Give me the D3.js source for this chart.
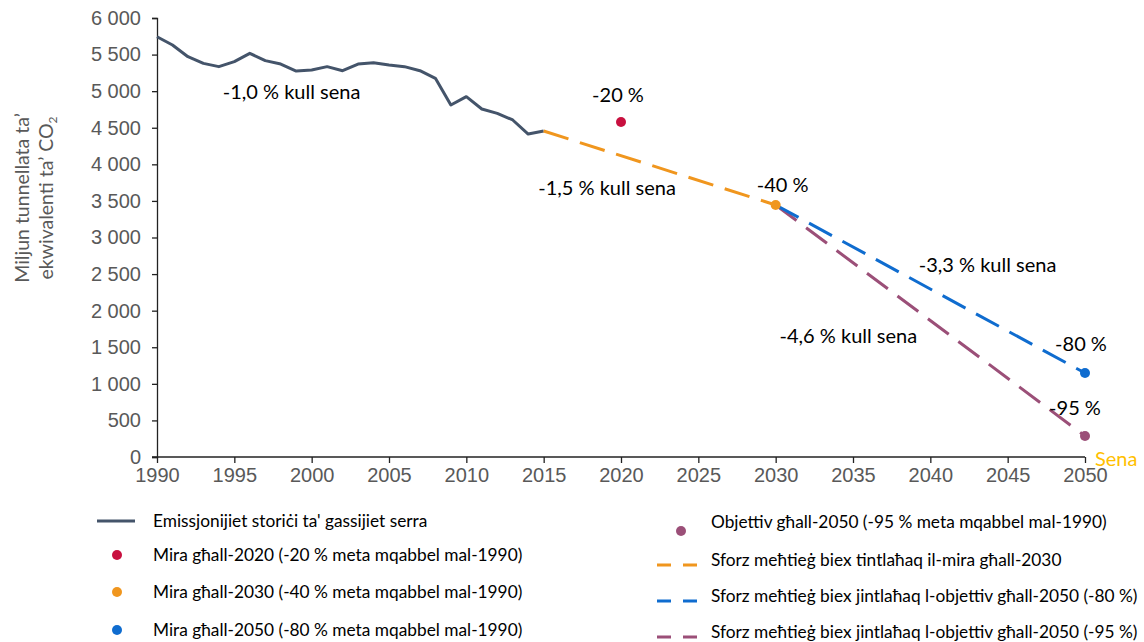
<!DOCTYPE html>
<html>
<head>
<meta charset="utf-8">
<script src="https://cdn.jsdelivr.net/npm/d3@7"></script>
<style>
  body { margin: 0; background: #fff; }
  svg text { font-family: Lato, "Open Sans", sans-serif; }
  .tick text { font-family: "Liberation Sans", Arial, sans-serif; }
</style>
</head>
<body>
<svg id="chart" width="1144" height="642"></svg>
<script>
// ---- data ----
var histYears = [1990, 1991, 1992, 1993, 1994, 1995, 1996, 1997, 1998, 1999,
                 2000, 2001, 2002, 2003, 2004, 2005, 2006, 2007, 2008, 2009,
                 2010, 2011, 2012, 2013, 2014, 2015];
var histValues = [5744, 5631, 5471, 5380, 5335, 5403, 5517, 5417, 5371, 5275,
                  5289, 5335, 5280, 5371, 5389, 5357, 5335, 5280, 5175, 4811,
                  4925, 4756, 4697, 4606, 4414, 4455];

var path2030 = [[2015, 4455], [2030, 3444]];
var path2050a = [[2030, 3444], [2050, 1148]];
var path2050b = [[2030, 3444], [2050, 287]];

var targets = [
  { year: 2020, value: 4578, label: "-20 %", color: "#c8103f", dx: -3, dy: -20 },
  { year: 2030, value: 3444, label: "-40 %", color: "#f0961e", dx: 7, dy: -13 },
  { year: 2050, value: 1148, label: "-80 %", color: "#0f6ccf", dx: -4, dy: -22 },
  { year: 2050, value: 287, label: "-95 %", color: "#9b4f78", dx: -10, dy: -21 }
];

// rate labels anchored in data space (text centre, baseline)
var rateLabels = [
  { year: 1998.7, value: 4893, text: "-1,0 % kull sena" },
  { year: 2019.1, value: 3581, text: "-1,5 % kull sena" },
  { year: 2043.7, value: 2528, text: "-3,3 % kull sena" },
  { year: 2034.7, value: 1558, text: "-4,6 % kull sena" }
];

var yTicks = [0, 500, 1000, 1500, 2000, 2500, 3000, 3500, 4000, 4500, 5000, 5500, 6000];
var xTicks = [1990, 1995, 2000, 2005, 2010, 2015, 2020, 2025, 2030, 2035, 2040, 2045, 2050];

var legendLeft = [
  { type: "line", color: "#44546a", text: "Emissjonijiet storiċi ta' gassijiet serra" },
  { type: "dot", color: "#c8103f", text: "Mira għall-2020 (-20 % meta mqabbel mal-1990)" },
  { type: "dot", color: "#f0961e", text: "Mira għall-2030 (-40 % meta mqabbel mal-1990)" },
  { type: "dot", color: "#0f6ccf", text: "Mira għall-2050 (-80 % meta mqabbel mal-1990)" }
];
var legendRight = [
  { type: "dot", color: "#9b4f78", text: "Objettiv għall-2050 (-95 % meta mqabbel mal-1990)" },
  { type: "dash", color: "#f0961e", text: "Sforz meħtieġ biex tintlaħaq il-mira għall-2030" },
  { type: "dash", color: "#0f6ccf", text: "Sforz meħtieġ biex jintlaħaq l-objettiv għall-2050 (-80 %)" },
  { type: "dash", color: "#9b4f78", text: "Sforz meħtieġ biex jintlaħaq l-objettiv għall-2050 (-95 %)" }
];

// ---- layout ----
var svg = d3.select("#chart");
var mLeft = 157, mRight = 1085, mTop = 18, mBottom = 457;

var x = d3.scaleLinear().domain([1990, 2050]).range([mLeft, mRight]);
var y = d3.scaleLinear().domain([0, 6000]).range([mBottom, mTop]);

var fmt = function (d) { return d3.format(",")(d).replace(",", " "); };

// axes
var yAxis = svg.append("g")
  .attr("transform", "translate(" + mLeft + ",0)")
  .call(d3.axisLeft(y).tickValues(yTicks).tickSize(5).tickPadding(11).tickFormat(fmt));
var xAxis = svg.append("g")
  .attr("transform", "translate(0," + mBottom + ")")
  .call(d3.axisBottom(x).tickValues(xTicks).tickSize(6).tickPadding(5).tickFormat(d3.format("d")));

[yAxis, xAxis].forEach(function (a) {
  a.select(".domain").attr("stroke", "#222").attr("stroke-width", 1.3);
  a.selectAll(".tick line").attr("stroke", "#222").attr("stroke-width", 1.3);
  a.selectAll(".tick text").attr("fill", "#595959").style("font-size", "20px");
});
// x axis starts a little left of the y axis like the original
xAxis.select(".domain").attr("d", "M" + (mLeft - 5) + ",0H" + mRight);

// y axis title
var yTitle = svg.append("text")
  .attr("transform", "translate(29," + 198 + ") rotate(-90)")
  .attr("text-anchor", "middle")
  .attr("fill", "#595959")
  .style("font-size", "19.5px");
yTitle.append("tspan").attr("x", 0).attr("dy", 0).text("Miljun tunnellata ta’");
yTitle.append("tspan").attr("x", 0).attr("dy", 24).text("ekwivalenti ta’ CO")
  .append("tspan").attr("dy", 4).style("font-size", "12px").text("2");

// lines
var line = d3.line().x(function (d) { return x(d[0]); }).y(function (d) { return y(d[1]); });

svg.append("path")
  .datum(d3.zip(histYears, histValues))
  .attr("d", line)
  .attr("fill", "none")
  .attr("stroke", "#44546a")
  .attr("stroke-width", 3)
  .attr("stroke-linejoin", "round");

function dashed(data, color) {
  svg.append("path")
    .datum(data)
    .attr("d", line)
    .attr("fill", "none")
    .attr("stroke", color)
    .attr("stroke-width", 3)
    .attr("stroke-dasharray", "26,12");
}
dashed(path2050b, "#9b4f78");
dashed(path2050a, "#0f6ccf");
dashed(path2030, "#f0961e");

// target dots + labels
svg.selectAll(".target")
  .data(targets)
  .enter()
  .append("circle")
  .attr("cx", function (d) { return x(d.year); })
  .attr("cy", function (d) { return y(d.value); })
  .attr("r", 5)
  .attr("fill", function (d) { return d.color; });

svg.selectAll(".tlabel")
  .data(targets)
  .enter()
  .append("text")
  .attr("x", function (d) { return x(d.year) + d.dx; })
  .attr("y", function (d) { return y(d.value) + d.dy; })
  .attr("text-anchor", "middle")
  .attr("fill", "#000")
  .style("font-size", "20px")
  .text(function (d) { return d.label; });

svg.selectAll(".rlabel")
  .data(rateLabels)
  .enter()
  .append("text")
  .attr("x", function (d) { return x(d.year); })
  .attr("y", function (d) { return y(d.value); })
  .attr("text-anchor", "middle")
  .attr("fill", "#000")
  .style("font-size", "20px")
  .text(function (d) { return d.text; });

// axis title "Sena"
svg.append("text")
  .attr("x", mRight + 10)
  .attr("y", mBottom + 9)
  .attr("fill", "#ffc000")
  .style("font-size", "20px")
  .text("Sena");

// legend
function legend(items, x0, symY, txtY, textX) {
  items.forEach(function (it, i) {
    var g = svg.append("g");
    var yy = symY[i];
    if (it.type === "line") {
      g.append("line").attr("x1", x0 - 20).attr("x2", x0 + 18).attr("y1", yy).attr("y2", yy)
        .attr("stroke", it.color).attr("stroke-width", 3);
    } else if (it.type === "dot") {
      g.append("circle").attr("cx", x0).attr("cy", yy).attr("r", 5).attr("fill", it.color);
    } else {
      g.append("line").attr("x1", x0 - 24).attr("x2", x0 + 16).attr("y1", yy).attr("y2", yy)
        .attr("stroke", it.color).attr("stroke-width", 3).attr("stroke-dasharray", "14,12");
    }
    g.append("text").attr("x", textX).attr("y", txtY[i]).attr("dy", "0.35em")
      .attr("fill", "#000").style("font-size", "17.3px").text(it.text);
  });
}
legend(legendLeft, 117, [521, 555, 592, 630], [521, 555, 592, 630], 153);
legend(legendRight, 681, [531, 565, 601, 637], [522, 560, 596, 632], 711);
</script>
</body>
</html>
